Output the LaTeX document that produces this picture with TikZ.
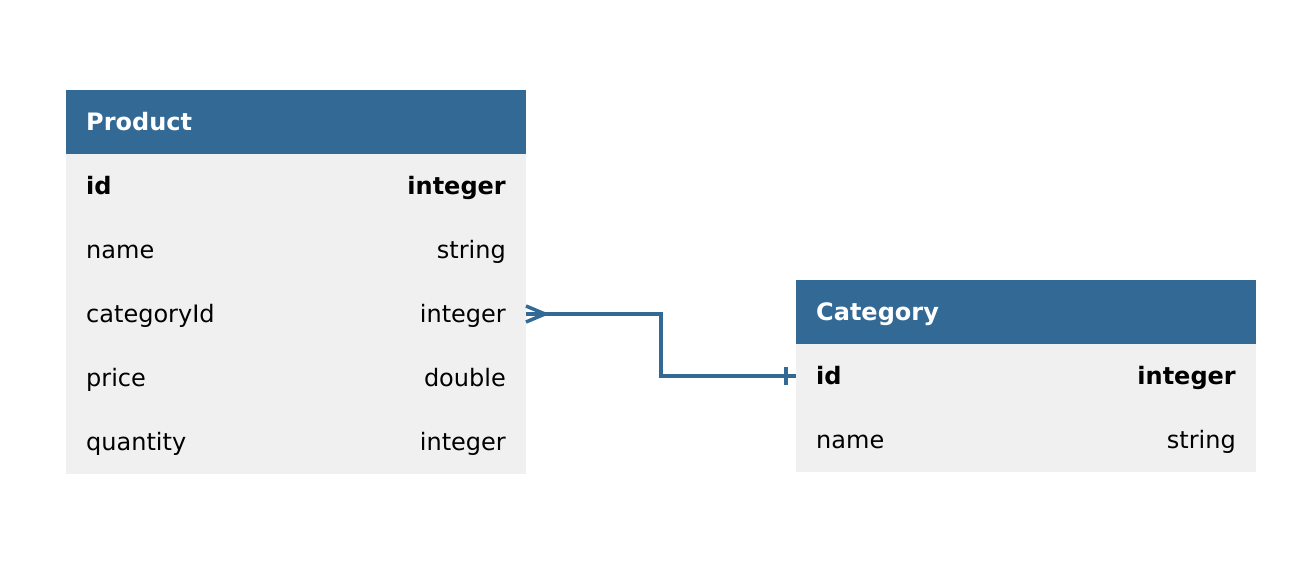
\documentclass[tikz,border=0pt]{standalone}
\usepackage{fontspec}
\setmainfont{DejaVu Sans}
\usetikzlibrary{positioning}
\definecolor{headblue}{RGB}{51,105,149}
\definecolor{rowgray}{RGB}{240,240,240}
\tikzstyle{head} = [fill=headblue,minimum width=460pt,minimum height=64pt,inner sep=0pt,outer sep=0pt]
\tikzstyle{row} = [fill=rowgray,minimum width=460pt,minimum height=64pt,inner sep=0pt,outer sep=0pt]
\tikzstyle{field} = [inner sep=0pt,text height=0.8em,text depth=0.13em]
\tikzstyle{key} = [field,font=\bfseries]
\tikzstyle{title} = [field,text=white,font=\bfseries]
\tikzstyle{arrow} = [draw=headblue,line width=3.5pt]

\begin{document}
\fontsize{24}{28}\selectfont
\begin{tikzpicture}[x=1pt,y=-1pt]
	\useasboundingbox (0,0) rectangle (1307,567);
	
	%Product table
	\node (prod) [head,anchor=north west] at (66,90) {};
	\node (p1) [row,below=0pt of prod] {};
	\node (p2) [row,below=0pt of p1] {};
	\node (p3) [row,below=0pt of p2] {};
	\node (p4) [row,below=0pt of p3] {};
	\node (p5) [row,below=0pt of p4] {};
	\node [title,right=20pt of prod.west] {Product};
	\node [key,right=20pt of p1.west] {id};
	\node [key,left=20pt of p1.east] {integer};
	\node [field,right=20pt of p2.west] {name};
	\node [field,left=20pt of p2.east] {string};
	\node [field,right=20pt of p3.west] {categoryId};
	\node [field,left=20pt of p3.east] {integer};
	\node [field,right=20pt of p4.west] {price};
	\node [field,left=20pt of p4.east] {double};
	\node [field,right=20pt of p5.west] {quantity};
	\node [field,left=20pt of p5.east] {integer};
	
	%Category table
	\node (cat) [head,anchor=north west] at (796,280) {};
	\node (c1) [row,below=0pt of cat] {};
	\node (c2) [row,below=0pt of c1] {};
	\node [title,right=20pt of cat.west] {Category};
	\node [key,right=20pt of c1.west] {id};
	\node [key,left=20pt of c1.east] {integer};
	\node [field,right=20pt of c2.west] {name};
	\node [field,left=20pt of c2.east] {string};
	
	%Lines
	\draw[arrow] (p3.east) -- ++(135,0) |- (c1.west);
	\draw[arrow] ([yshift=-8pt]p3.east) -- ([xshift=19pt]p3.east) -- ([yshift=8pt]p3.east);
	\draw[arrow] ([shift={(-10pt,-9pt)}]c1.west) -- ([shift={(-10pt,9pt)}]c1.west);
\end{tikzpicture}
\end{document}
